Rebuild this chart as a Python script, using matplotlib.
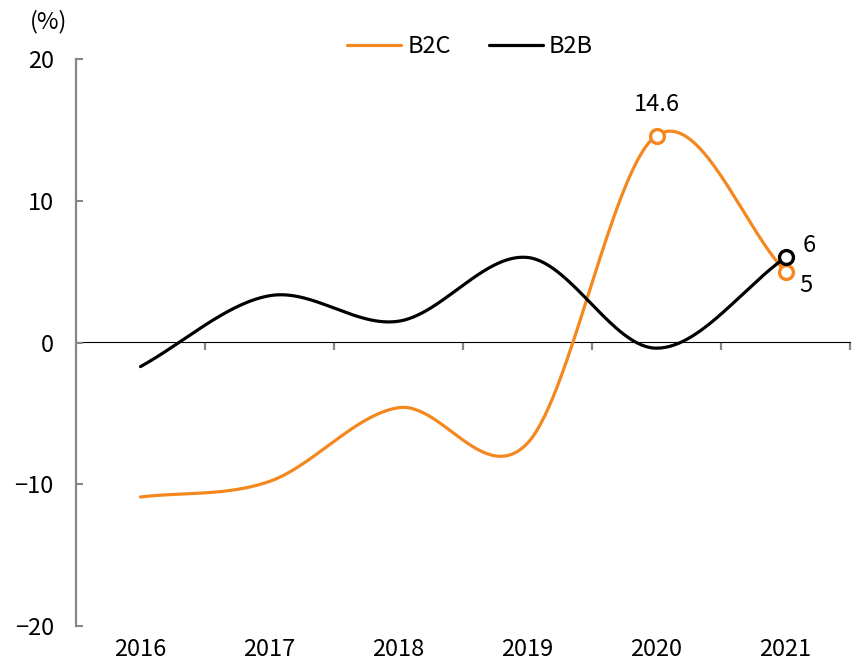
import matplotlib
matplotlib.use("Agg")
import matplotlib.pyplot as plt
import numpy as np

YEARS = ["2016", "2017", "2018", "2019", "2020", "2021"]
B2C = [-10.9, -9.8, -4.6, -7.1, 14.6, 5.0]
B2B = [-1.7, 3.3, 1.5, 6.0, -0.4, 6.0]

ORANGE = "#F5871F"
GRAY = "#878787"

plt.rcParams["font.family"] = ["Noto Sans CJK KR", "DejaVu Sans"]
plt.rcParams["font.size"] = 17


def smooth(values, samples=60):
    # spreadsheet-like smoothed line: Catmull-Rom with reflected end points
    y = np.asarray(values, dtype=float)
    padded = np.concatenate([[2 * y[0] - y[1]], y, [2 * y[-1] - y[-2]]])
    t = np.linspace(0, 1, samples, endpoint=False)
    h00 = 2 * t**3 - 3 * t**2 + 1
    h10 = t**3 - 2 * t**2 + t
    h01 = -2 * t**3 + 3 * t**2
    h11 = t**3 - t**2
    xs, ys = [], []
    for i in range(len(y) - 1):
        p0, p1, p2, p3 = padded[i:i + 4]
        m1 = (p2 - p0) / 2
        m2 = (p3 - p1) / 2
        xs.append(i + t)
        ys.append(h00 * p1 + h10 * m1 + h01 * p2 + h11 * m2)
    xs.append([len(y) - 1])
    ys.append([y[-1]])
    return np.concatenate(xs), np.concatenate(ys)


fig = plt.figure(figsize=(8.57, 6.65), dpi=100)
ax = fig.add_axes([76 / 857, 1 - 626 / 665, (850 - 76) / 857, (626 - 59) / 665])

x = np.arange(len(YEARS))
for values, color, label in ((B2C, ORANGE, "B2C"), (B2B, "black", "B2B")):
    sx, sy = smooth(values)
    ax.plot(sx, sy, color=color, lw=2.3, label=label, solid_capstyle="round", zorder=3)

marker_style = dict(marker="o", ms=10, mew=2.4, mfc="white", ls="none", zorder=4)
ax.plot([x[4], x[5]], [B2C[4], B2C[5]], mec=ORANGE, **marker_style)
ax.plot([x[5]], [B2B[5]], mec="black", **marker_style)

ax.annotate(f"{B2C[4]:g}", (x[4], B2C[4]), xytext=(0, 14), textcoords="offset points",
            ha="center", va="bottom")
ax.annotate(f"{B2B[5]:g}", (x[5], B2B[5]), xytext=(12, 0), textcoords="offset points",
            ha="left", va="bottom")
ax.annotate(f"{B2C[5]:g}", (x[5], B2C[5]), xytext=(10, -2), textcoords="offset points",
            ha="left", va="top")

ax.set_xlim(-0.5, len(YEARS) - 0.5)
ax.set_ylim(-20, 20)
ax.set_yticks([-20, -10, 0, 10, 20])
ax.set_yticklabels(["\u221220", "\u221210", "0", "10", "20"])
ax.tick_params(axis="y", direction="in", length=5, width=1.5, color=GRAY, pad=16)

ax.set_xticks(x)
ax.set_xticklabels(YEARS)
ax.tick_params(axis="x", length=0, pad=9)

for side in ("top", "right", "bottom"):
    ax.spines[side].set_visible(False)
ax.spines["left"].set_color(GRAY)
ax.spines["left"].set_linewidth(1.6)

# category axis drawn along zero
zero_axis = ax.secondary_xaxis(0.5)
zero_axis.set_xticks(np.arange(0.5, len(YEARS) - 0.5 + 1e-9, 1.0))
zero_axis.set_xticklabels([])
zero_axis.tick_params(direction="in", length=6, width=1.6, color=GRAY)
zero_axis.spines["bottom"].set_color(GRAY)
zero_axis.spines["bottom"].set_linewidth(1.8)

fig.text(30 / 857, 1 - 22 / 665, "(%)", ha="left", va="center")

ax.legend(loc="upper center", bbox_to_anchor=(0.509, 1.08), ncol=2, frameon=False,
          handlelength=2.3, handletextpad=0.25, columnspacing=1.6)

fig.savefig("out.png", dpi=100)
